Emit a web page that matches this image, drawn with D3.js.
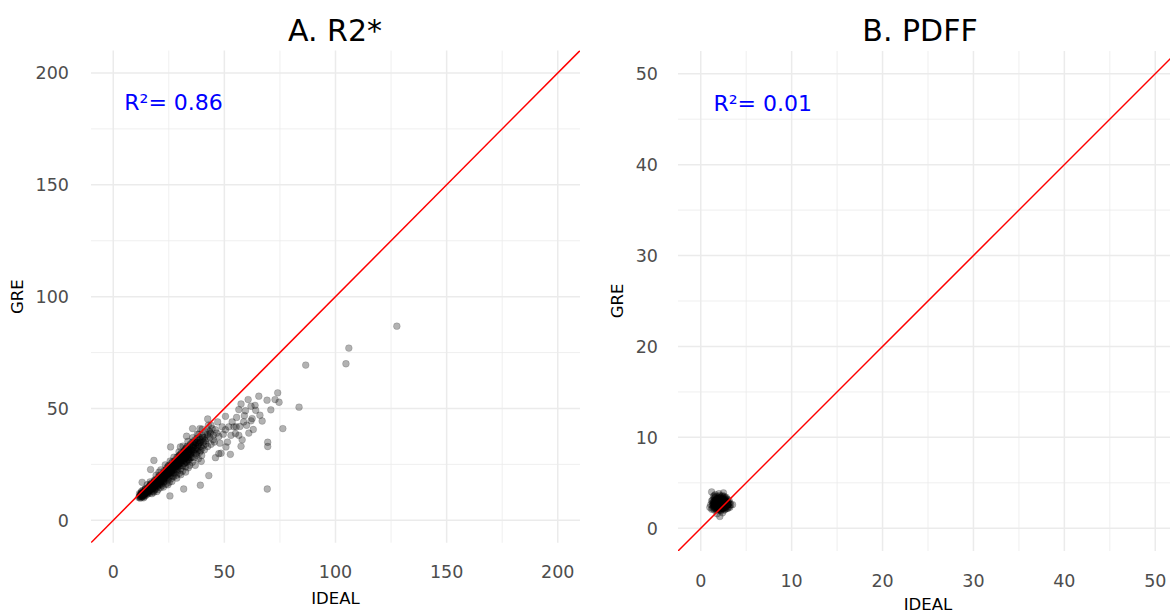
<!DOCTYPE html>
<html>
<head>
<meta charset="utf-8">
<script src="https://cdn.jsdelivr.net/npm/d3@7"></script>
<style>
  body { margin: 0; background: #fff; }
  svg { display: block; font-family: "DejaVu Sans", sans-serif; }
</style>
</head>
<body>
<svg id="chart" width="1170" height="612"></svg>
<script>
// ---- data ----
const r2Ticks = [0, 50, 100, 150, 200];
const r2Minor = [25, 75, 125, 175];
const pdffTicks = [0, 10, 20, 30, 40, 50];
const pdffMinor = [5, 15, 25, 35, 45];

const r2Label = "R²= 0.86";
const pdffLabel = "R²= 0.01";

// [IDEAL, GRE] for R2*
const r2Points = [
  [11.5,10.2],[12,10.8],[12.3,11.5],[12.8,10.4],[13,12],[13.2,11],[13.5,12.6],[13.8,11.4],[14,10.6],[14.2,13],
  [11.8,11.9],[12.6,12.4],[13.4,13.5],[14.5,12],[14.8,11.2],[12.2,9.9],[13.7,10.1],[14.4,14],
  [15,12.5],[15.2,13.8],[15.5,11.8],[15.8,14.5],[16,13],[16.2,15.2],[16.5,12.2],[16.8,14],[17,16],[17.2,13.3],
  [17.5,15],[17.8,12.8],[18,14.6],[18.2,16.8],[18.5,13.6],[18.8,15.8],[15.3,15.9],[16.6,17.2],[17.4,11.9],
  [18.6,17.5],[15.9,13.4],[16.9,15.6],[17.7,14.2],[18.3,12.6],
  [19,14],[19.2,16.5],[19.5,18],[19.8,15],[20,17],[20.2,13.8],[20.5,19],[20.8,16],[21,18.2],[21.2,14.6],
  [21.5,20],[21.8,17.4],[22,15.5],[22.2,19.4],[22.5,21],[22.8,17],[19.3,20.2],[20.6,21.5],[21.4,22.6],
  [22.6,14.9],[19.7,12.9],[21.7,16.1],[20.1,15.6],[22.9,18.8],
  [23,17.5],[23.2,20.5],[23.5,22],[23.8,16.2],[24,19],[24.2,23.5],[24.5,18],[24.8,21],[25,24.6],[25.2,17],
  [25.5,20],[25.8,22.8],[26,18.6],[26.2,25.5],[26.5,21.5],[26.8,19.8],[23.4,24.8],[24.6,15.9],[25.6,26.5],
  [26.4,17.4],[23.9,21.2],[24.9,23.2],[25.9,20.9],[26.9,23.9],
  [27,22.5],[27.2,19.5],[27.5,25],[27.8,21],[28,27],[28.2,23],[28.5,20.2],[28.8,25.8],[29,22],[29.2,28.5],
  [29.5,24],[29.8,21],[30,26.5],[30.2,29.5],[30.5,23],[30.8,27.5],[27.3,28.2],[28.6,18.9],[29.6,30.6],
  [30.4,20.4],[27.9,24.2],[28.9,26.6],[29.9,25.2],[30.9,24.5],
  [31,28.5],[31.2,22],[31.5,30.5],[31.8,25.5],[32,27.5],[32.2,31.5],[32.5,24],[32.8,29],[33,26],[33.2,33],
  [33.5,28],[33.8,23.5],[34,30.5],[34.2,26.5],[34.5,33.5],[34.8,28],[31.4,33.2],[32.6,21.6],[33.6,35.3],
  [34.4,24.6],[31.9,26.8],[32.9,31.2],[33.9,29.4],[34.9,31.6],
  [35,29.5],[35.3,33],[35.6,26],[36,31],[36.3,35],[36.6,28],[37,33.5],[37.3,30],[37.6,36.5],[38,32],
  [38.3,27.5],[38.6,34.5],[35.8,37],[36.9,24.6],[37.8,38.5],[38.9,30.4],
  [39,36],[39.4,33],[39.8,29],[40.2,38],[40.6,35],[41,31.5],[41.5,39.5],[42,36.5],[42.5,33],[43,40],
  [43.5,37],[44,34],[44.5,41],[45,38],[45.5,35],[46,40.5],[40,40.8],[42.8,42.5],[39.6,26.4],
  [12.4,10.6],[12.9,11.2],[13.3,11.8],[13.9,12.2],[14.3,12.5],[14.7,13.1],[15.1,13.4],[15.6,13.9],[16.1,14.2],
  [16.4,14.8],[16.9,14.9],[17.3,15.4],[17.6,15.8],[18.1,15.9],[18.4,16.3],[18.9,16.6],[19.1,17.2],[19.6,17.4],
  [20.3,17.8],[20.7,18.3],[21.1,18.6],[21.6,19.1],[22.1,19.3],[22.4,19.9],[22.7,20.2],[23.1,20.6],[23.6,21.1],
  [24.1,21.5],[24.4,21.9],[24.7,22.3],[25.1,22.6],[25.4,23.1],[25.7,23.4],[26.1,23.8],[26.6,24.2],[27.1,24.6],
  [27.4,25.3],[27.7,25.5],[28.1,25.9],[28.4,26.2],[28.7,26.8],[29.1,27.1],[29.4,27.5],[29.7,27.9],[30.1,28.3],
  [30.6,28.6],[31.1,29.2],[31.6,29.6],[32.1,30.1],[32.4,30.7],[33.1,31.2],[33.7,31.8],[34.3,32.4],
  [12.1,11.3],[13.1,10.5],[14.1,11.7],[15.4,12.9],[16.3,13.5],[17.1,14.1],[18.7,14.4],[19.4,15.3],[20.4,16.5],
  [21.3,17.1],[22.3,18.1],[23.3,18.8],[24.3,20.1],[25.3,21.2],[26.3,22.1],[27.6,22.9],[28.3,24.1],[29.3,25.1],
  [30.3,25.8],[31.3,26.7],[32.3,27.6],[33.4,29.1],[34.6,29.9],[35.4,31.2],[36.2,32.8],[37.4,32.1],[38.2,35.6],
  [12.7,12.9],[14.6,14.2],[16.7,16.1],[18.6,18.1],[20.9,20.1],[22.9,22.1],[24.7,24.1],[26.7,26.2],[28.7,28.3],
  [30.7,30.1],[32.7,32.2],[34.7,34.1],[36.7,35.9],
  [13.6,11.6],[15.7,13.2],[17.9,15.1],[19.9,16.8],[21.9,18.4],[23.7,19.8],[25.9,21.8],[27.8,23.6],[29.6,25.4],
  [31.7,27.3],[33.3,28.4],[14.9,12.7],[16.6,14.1],[18.8,16.1],[20.6,17.2],[22.6,19.1],[24.6,20.7],[26.4,22.7],
  [28.6,24.6],[30.6,26.4],[32.6,28.2],[35.1,30.6],
  [36.1,33.7],[37.2,34.6],[38.1,33.1],[39.2,34.8],[40.1,36.4],[41.2,37.2],[39.9,32.2],[37.9,30.9],[36.4,30.1],
  [41.7,34.2],[42.4,38.4],[43.8,38.9],[40.7,33.6],[38.8,37.1],[35.5,34.9],[34.1,27.7],[33.6,26.9],[32.3,25.6],
  [11.9,10.5],[12.5,11.7],[13.2,12.3],[13.9,11.1],[14.6,12.8],[15.3,12.1],[15.9,14.8],[16.5,13.6],[17.2,14.8],
  [17.9,16.4],[18.5,15.1],[19.2,15.9],[19.8,18.2],[20.5,17.1],[21.1,16.2],[21.8,18.9],[22.4,17.6],[23.1,19.4],
  [23.8,22.6],[24.5,20.6],[25.2,19.1],[25.8,24.2],[26.5,23.1],[27.2,21.4],[27.9,26.4],[28.5,22.6],[29.2,24.6],
  [29.8,29.1],[30.5,27.2],[31.2,24.3],[31.9,30.9],[32.6,26.3],[33.2,30.1],[33.9,27.1],[34.6,31],[35.3,28.2],
  [36,34.1],[36.8,31.6],[37.5,29.1],[38.4,33.8],[39.3,31.1],[40.4,37.2],[41.4,35.6],
  [12.8,11.8],[14.3,13.7],[15.8,12.6],[17.3,16.6],[18.9,17.8],[20.2,19.3],[21.5,18],[23.4,20],[24.9,21.8],
  [26.2,24.6],[27.6,26.1],[28.9,24.1],[30.4,29],[31.8,28.1],[33.1,32.4],[34.4,29.2],[35.9,32.4],[37.6,34.9],
  [39.1,35.1],
  [45,36],[46.6,39],[47.5,37.5],[48,34.5],[49,41.8],[49.5,38.5],[50.5,40.5],[51.4,35],[50.7,32.8],[52,41.8],
  [53,38],[54.3,41.8],[55,38.8],[56.5,38],[53.5,44],[55.5,46],[57,42],[58,36],[60,42.5],[61,39],[62,44.5],
  [47,44],[44,42.5],[43.5,39.5],[48.5,30],[46,28],[57.5,33.1],[52.7,29.5],[47.5,29.8],[43,20],[39.2,15.7],
  [31.7,14],[25.5,10.9],[16.8,22.7],[13,17],[18.3,26.8],[25.8,32.8],[30.2,32.8],[33,37.6],[35.7,41],[39,41],
  [42.5,45.3],[38.5,38.5],
  [50.5,46.5],[56.5,49.5],[59.5,49],[58.7,44],[59,46.8],[60.7,54],[62,51],[63.8,51.4],[64.1,49.2],[63,40.6],
  [65.5,55.5],[67,44.4],[69.2,53.7],[70.9,49.4],[69.5,34.9],[69.5,33],[69.3,14],[72.8,54],[74.6,52.8],[74,57],
  [76.3,41],[83.6,50.6],[86.6,69.4],[104.7,70],[106,77],[127.6,86.8],[55.3,41.8],[62.5,45.5],[66,47],[57.5,52]
];

// [IDEAL, GRE] for PDFF
const pdffPoints = [
  [1.2,2.1],[1.3,2.5],[1.4,2.9],[1.5,3.3],[1.2,3.0],[1.6,2.2],[1.7,2.6],[1.8,3.0],[1.9,3.4],[1.6,3.7],
  [2.0,2.0],[2.1,2.4],[2.2,2.8],[2.3,3.2],[2.4,3.6],[2.0,3.0],[2.5,2.2],[2.6,2.6],[2.7,3.0],[2.8,3.4],
  [2.9,2.5],[3.0,2.9],[3.1,2.4],[3.2,2.8],[1.4,2.3],[1.5,2.7],[1.7,3.2],[1.8,2.3],[1.9,2.7],[2.1,3.1],
  [2.2,2.2],[2.3,2.6],[2.4,3.0],[2.5,3.4],[2.6,2.0],[2.7,2.4],[2.8,2.8],[2.9,3.2],[3.0,2.2],[1.3,2.8],
  [1.5,2.0],[1.6,2.9],[1.7,2.0],[1.8,3.5],[1.9,2.1],[2.0,2.6],[2.1,3.6],[2.2,1.9],[2.3,3.0],[2.4,2.4],
  [2.5,2.8],[2.6,3.2],[2.7,2.1],[2.8,2.5],[2.9,2.9],[3.3,2.6],[1.1,2.6],[1.4,3.5],[2.0,3.8],[2.5,3.9],
  [1.2,4.0],[3.5,2.6],[2.1,1.3],[1.8,1.6],[2.4,1.7],[3.1,3.1],[1.0,2.3],[2.2,3.4],[1.9,3.1],[2.3,2.1],
  [1.6,2.4],[2.7,2.7],[2.0,2.3],[1.7,2.8],[2.4,2.7],[2.1,2.8],[1.8,2.5],[2.6,2.9],[2.2,2.5],[1.9,2.9],
  [2.3,2.9],[2.5,2.5],[2.0,2.8],[1.5,3.0],[2.8,3.1],[2.9,2.2],[1.3,2.2],[3.2,2.3],[1.6,3.4],[2.6,3.5],
  [1.4,2.6],[1.7,2.4],[2.1,2.1],[2.4,2.2],[2.7,2.6],[2.2,3.1],[1.8,2.8],[2.5,3.1],[2.0,2.5],[1.6,2.7],
  [2.3,2.4],[2.6,2.3],[1.9,2.4],[2.1,2.6],[2.4,2.9],[2.8,2.3],[1.5,2.5],[2.2,2.7],[1.7,3.0],[2.5,2.6],
  [3.0,2.6],[1.3,3.1],[2.9,2.7],[2.0,3.3],[1.8,2.1],[2.3,3.5],[2.7,3.3],[1.5,3.6],[3.1,2.7],[2.2,2.0],
  [1.5,2.3],[1.7,2.7],[1.9,2.3],[2.1,2.7],[2.3,2.3],[2.5,2.7],[2.7,2.9],[1.6,3.1],[1.8,2.7],[2.0,2.7],
  [2.2,2.9],[2.4,2.5],[2.6,2.7],[2.8,2.7],[1.4,2.7],[2.0,2.4],[2.2,2.6],[2.4,2.8],[1.8,2.9],[2.6,2.5],
  [2.1,3.3],[1.9,2.6],[2.3,2.7],[1.7,2.5],[2.5,3.0],[2.9,2.6],[1.6,2.6],[2.0,2.9],[2.2,2.4],[2.4,3.2],
  [1.8,3.2],[2.6,2.2],[2.8,2.9],[1.5,2.8],[2.3,2.8],[2.1,2.5],[2.7,2.5],[1.9,2.8],[2.1,3.0],[2.4,2.6]
];

// ---- layout ----
const svg = d3.select("#chart");

const panels = [
  {
    title: "A. R2*", points: r2Points, ticks: r2Ticks, minor: r2Minor, label: r2Label,
    domain: [-10, 210], left: 91, right: 580, top: 50.6, bottom: 542.7,
    labelPos: [5.0, 187], tickRight: 69, gre: 68, ideal: 61, titleX: 335
  },
  {
    title: "B. PDFF", points: pdffPoints, ticks: pdffTicks, minor: pdffMinor, label: pdffLabel,
    domain: [-2.5, 52.5], left: 678, right: 1178, top: 51, bottom: 551,
    labelPos: [1.4, 46.8], tickRight: 658, gre: 55, ideal: 58.5, titleX: 920
  }
];

panels.forEach((p, i) => {
  const x = d3.scaleLinear().domain(p.domain).range([p.left, p.right]);
  const y = d3.scaleLinear().domain(p.domain).range([p.bottom, p.top]);

  const clipId = "clip" + i;
  svg.append("clipPath").attr("id", clipId)
    .append("rect")
    .attr("x", p.left).attr("y", p.top)
    .attr("width", p.right - p.left).attr("height", p.bottom - p.top);

  const g = svg.append("g");

  // minor grid
  g.selectAll(".minx").data(p.minor).enter().append("line")
    .attr("x1", d => x(d)).attr("x2", d => x(d))
    .attr("y1", p.top).attr("y2", p.bottom)
    .attr("stroke", "#ebebeb").attr("stroke-width", 0.8);
  g.selectAll(".miny").data(p.minor).enter().append("line")
    .attr("y1", d => y(d)).attr("y2", d => y(d))
    .attr("x1", p.left).attr("x2", p.right)
    .attr("stroke", "#ebebeb").attr("stroke-width", 0.8);

  // major grid
  g.selectAll(".majx").data(p.ticks).enter().append("line")
    .attr("x1", d => x(d)).attr("x2", d => x(d))
    .attr("y1", p.top).attr("y2", p.bottom)
    .attr("stroke", "#ebebeb").attr("stroke-width", 1.5);
  g.selectAll(".majy").data(p.ticks).enter().append("line")
    .attr("y1", d => y(d)).attr("y2", d => y(d))
    .attr("x1", p.left).attr("x2", p.right)
    .attr("stroke", "#ebebeb").attr("stroke-width", 1.5);

  // points
  g.append("g").attr("clip-path", `url(#${clipId})`)
    .selectAll("circle").data(p.points).enter().append("circle")
    .attr("cx", d => x(d[0]))
    .attr("cy", d => y(d[1]))
    .attr("r", 3.4)
    .attr("fill", "#000")
    .attr("fill-opacity", 0.3)
    .attr("stroke", "#000")
    .attr("stroke-opacity", 0.25)
    .attr("stroke-width", 0.6);

  // identity line
  g.append("line")
    .attr("clip-path", `url(#${clipId})`)
    .attr("x1", x(p.domain[0])).attr("y1", y(p.domain[0]))
    .attr("x2", x(p.domain[1])).attr("y2", y(p.domain[1]))
    .attr("stroke", "#ff0000").attr("stroke-width", 1.5);

  // tick labels
  g.selectAll(".xt").data(p.ticks).enter().append("text")
    .attr("x", d => x(d)).attr("y", p.bottom + 35.5)
    .attr("text-anchor", "middle")
    .attr("fill", "#4d4d4d").style("font-size", "17.5px")
    .text(d => d);
  g.selectAll(".yt").data(p.ticks).enter().append("text")
    .attr("x", p.tickRight).attr("y", d => y(d))
    .attr("dy", "0.36em")
    .attr("text-anchor", "end")
    .attr("fill", "#4d4d4d").style("font-size", "17.5px")
    .text(d => d);

  // axis titles
  g.append("text")
    .attr("x", (p.left + p.right) / 2).attr("y", p.bottom + p.ideal)
    .attr("text-anchor", "middle").attr("fill", "#000")
    .style("font-size", "16.5px")
    .text("IDEAL");
  g.append("text")
    .attr("transform", `translate(${p.left - p.gre},${(p.top + p.bottom) / 2}) rotate(-90)`)
    .attr("text-anchor", "middle").attr("fill", "#000")
    .style("font-size", "16.5px")
    .text("GRE");

  // title
  g.append("text")
    .attr("x", p.titleX).attr("y", 41)
    .attr("text-anchor", "middle").attr("fill", "#000")
    .style("font-size", "30px")
    .text(p.title);

  // R² annotation
  g.append("text")
    .attr("x", x(p.labelPos[0])).attr("y", y(p.labelPos[1]))
    .attr("dy", "0.36em")
    .attr("fill", "#0000ff")
    .style("font-size", "22px")
    .text(p.label);
});
</script>
</body>
</html>
